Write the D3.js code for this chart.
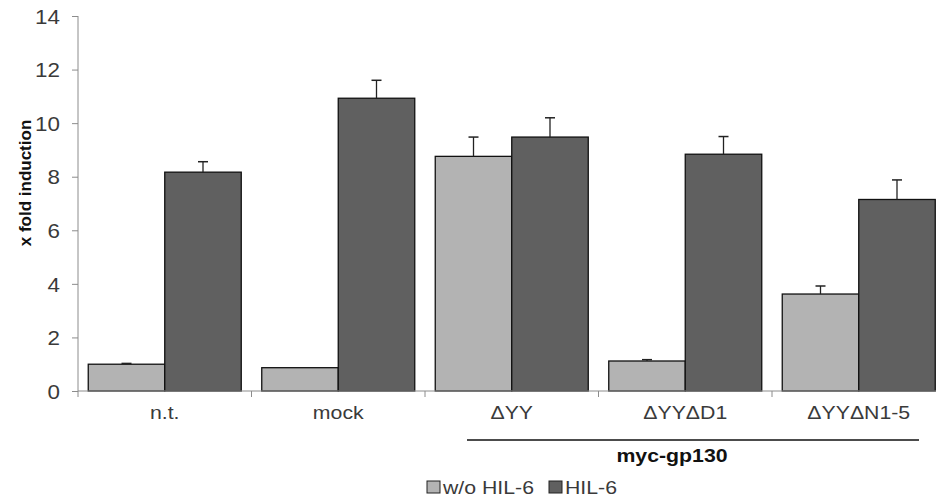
<!DOCTYPE html>
<html><head><meta charset="utf-8">
<script src="https://cdn.jsdelivr.net/npm/d3@7"></script>
<style>body{margin:0;background:#fff}svg{display:block}text{font-family:"Liberation Sans",Arial,sans-serif}</style>
</head><body>
<script>
const categories = ["n.t.", "mock", "ΔYY", "ΔYYΔD1", "ΔYYΔN1-5"];
const seriesNames = ["w/o HIL-6", "HIL-6"];
const withoutHIL6 = [1.0, 0.87, 8.76, 1.12, 3.62];
const withoutHIL6Err = [0.03, 0, 0.72, 0.05, 0.3];
const withHIL6 = [8.17, 10.93, 9.48, 8.84, 7.15];
const withHIL6Err = [0.39, 0.67, 0.72, 0.66, 0.73];
const yTicks = [0, 2, 4, 6, 8, 10, 12, 14];
const groupLabel = "myc-gp130";
const yLabel = "x fold induction";

const W = 936, H = 497;
const colors = ["#b3b3b3", "#606060"];
const sx = 1.12; // horizontal stretch of the reference text

const svg = d3.select("body").append("svg").attr("width", W).attr("height", H);

const y = d3.scaleLinear().domain([0, 14]).range([391, 16]);
const x0 = d3.scaleBand().domain(categories).range([78, 945.5]).padding(0);
const x1 = d3.scaleBand().domain(seriesNames).range([0, x0.bandwidth()]).paddingInner(0).paddingOuter(0.134);

const data = categories.map((c, i) => ({
  cat: c,
  vals: [
    {s: seriesNames[0], v: withoutHIL6[i], e: withoutHIL6Err[i], k: 0},
    {s: seriesNames[1], v: withHIL6[i], e: withHIL6Err[i], k: 1}
  ]
}));

function stext(sel, xx, yy, anchor) {
  return sel.attr("transform", `translate(${xx},${yy}) scale(${sx},1)`).attr("text-anchor", anchor);
}

// y axis
const yAxis = d3.axisLeft(y).tickValues(yTicks).tickSize(6).tickPadding(0).tickFormat(d3.format("d"));
const gy = svg.append("g").attr("transform", "translate(78,0)").call(yAxis);
gy.select(".domain").attr("stroke", "#8c8c8c").attr("d", "M0,16V397");
gy.selectAll(".tick line").attr("stroke", "#8c8c8c");
gy.selectAll(".tick text").remove();
gy.selectAll(".tick").each(function(d) {
  stext(d3.select(this).append("text"), -18, 0, "end")
    .attr("dy", "0.36em").attr("font-size", 20).attr("fill", "#3a3a3a").text(d);
});

// bars
const groups = svg.append("g").selectAll("g").data(data).join("g")
  .attr("transform", d => `translate(${x0(d.cat)},0)`);
groups.selectAll("rect").data(d => d.vals).join("rect")
  .attr("x", d => x1(d.s)).attr("width", x1.bandwidth())
  .attr("y", d => y(d.v)).attr("height", d => y(0) - y(d.v))
  .attr("fill", d => colors[d.k]).attr("stroke", "#111").attr("stroke-width", 1.3);

// error bars
const eb = groups.selectAll("g.err").data(d => d.vals.filter(v => v.e > 0)).join("g").attr("class", "err");
eb.append("line")
  .attr("x1", d => x1(d.s) + x1.bandwidth() / 2).attr("x2", d => x1(d.s) + x1.bandwidth() / 2)
  .attr("y1", d => y(d.v)).attr("y2", d => y(d.v + d.e))
  .attr("stroke", "#222").attr("stroke-width", 1.3);
eb.append("line")
  .attr("x1", d => x1(d.s) + x1.bandwidth() / 2 - 5).attr("x2", d => x1(d.s) + x1.bandwidth() / 2 + 5)
  .attr("y1", d => y(d.v + d.e)).attr("y2", d => y(d.v + d.e))
  .attr("stroke", "#222").attr("stroke-width", 1.5);

// x axis
const xAxis = d3.axisBottom(x0).tickSize(0).tickFormat("");
const gx = svg.append("g").attr("transform", "translate(0,391)").call(xAxis);
gx.select(".domain").attr("stroke", "#8c8c8c").attr("d", `M78,0H945.5`);
gx.selectAll(".tick").remove();
svg.append("g").selectAll("line").data(categories.slice(1)).join("line")
  .attr("x1", d => x0(d)).attr("x2", d => x0(d)).attr("y1", 391).attr("y2", 397)
  .attr("stroke", "#8c8c8c");
svg.append("g").selectAll("text").data(categories).join("text")
  .each(function(d) { stext(d3.select(this), x0(d) + x0.bandwidth() / 2, 419, "middle"); })
  .attr("font-size", 19).attr("fill", "#3a3a3a").text(d => d);

// bracket
svg.append("line").attr("x1", 467).attr("x2", 919).attr("y1", 440).attr("y2", 440)
  .attr("stroke", "#111").attr("stroke-width", 1.5);
stext(svg.append("text"), 672, 462, "middle")
  .attr("font-size", 19).attr("font-weight", "bold").attr("fill", "#111").text(groupLabel);

// y label
svg.append("text").attr("transform", "translate(31,183) rotate(-90)")
  .attr("text-anchor", "middle").attr("font-size", 17).attr("font-weight", "bold")
  .attr("fill", "#111").text(yLabel);

// legend
const legX = [427, 549];
const leg = svg.append("g").selectAll("g").data(seriesNames).join("g")
  .attr("transform", (d, i) => `translate(${legX[i]},481)`);
leg.append("rect").attr("width", 13).attr("height", 12).attr("y", 0)
  .attr("fill", (d, i) => colors[i]).attr("stroke", "#222").attr("stroke-width", 1);
leg.append("text").each(function() { stext(d3.select(this), 16, 13, "start"); })
  .attr("font-size", 19).attr("fill", "#3a3a3a").text(d => d);
</script>
</body></html>
